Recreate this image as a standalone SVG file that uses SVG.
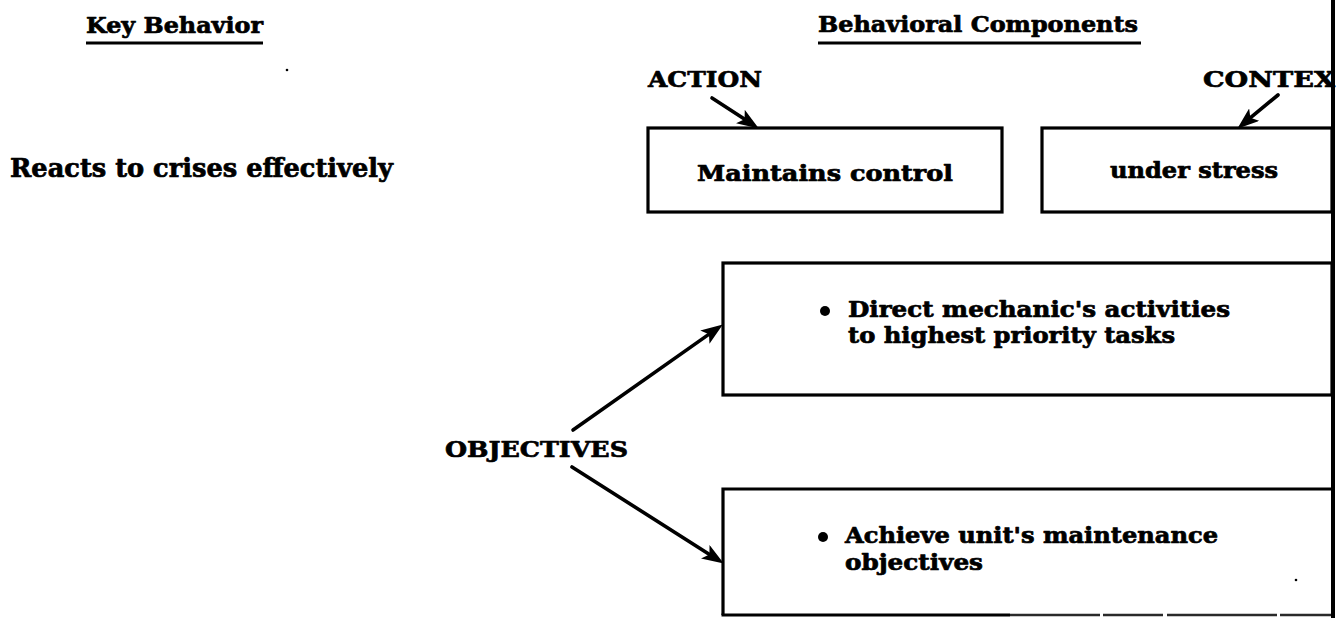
<svg xmlns="http://www.w3.org/2000/svg" width="1342" height="618" viewBox="0 0 1342 618">
  <defs>
    <marker id="head" viewBox="0 0 22 16" refX="13" refY="8" markerWidth="22" markerHeight="16" markerUnits="userSpaceOnUse" orient="auto">
      <path d="M0,0 L22,8 L0,16 L5,8 Z" fill="#000"/>
    </marker>
  </defs>
  <style>
    text { font-family: "DejaVu Serif", "Liberation Serif", serif; font-weight: bold; fill: #000; stroke: #000; stroke-width: 0.7; stroke-linejoin: round; }
    .head { font-size: 23px; }
    .label { font-size: 23px; }
    .body { font-size: 22px; }
    .box { fill: #fff; stroke: #000; stroke-width: 3.2; }
    .rule { stroke: #000; stroke-width: 3; fill: none; }
    .conn { stroke: #000; stroke-width: 3.6; fill: none; stroke-linecap: round; marker-end: url(#head); }
    .bullet { fill: #000; }
  </style>

  <rect width="1342" height="618" fill="#fff"/>

  <!-- column headings -->
  <g id="heading-key">
    <text class="head" x="86" y="33" textLength="177" lengthAdjust="spacingAndGlyphs">Key Behavior</text>
    <line class="rule" x1="86" y1="43" x2="263" y2="43"/>
  </g>
  <g id="heading-components">
    <text class="head" x="818" y="32" textLength="320" lengthAdjust="spacingAndGlyphs">Behavioral Components</text>
    <line class="rule" x1="818" y1="43" x2="1141" y2="43"/>
  </g>

  <!-- key behavior -->
  <g id="key-behavior">
    <text style="font-size:26px" x="10" y="177" textLength="383" lengthAdjust="spacingAndGlyphs">Reacts to crises effectively</text>
  </g>

  <!-- labels -->
  <g id="label-action">
    <text class="label" x="648" y="87" textLength="114" lengthAdjust="spacingAndGlyphs">ACTION</text>
  </g>
  <g id="label-context">
    <text class="label" x="1203" y="87" textLength="132" lengthAdjust="spacingAndGlyphs">CONTEX</text>
  </g>
  <g id="label-objectives">
    <text class="label" x="445" y="457" textLength="183" lengthAdjust="spacingAndGlyphs">OBJECTIVES</text>
  </g>

  <!-- boxes -->
  <g id="box-action">
    <rect class="box" x="648" y="128" width="354" height="84"/>
    <text class="body" x="697" y="181" textLength="256" lengthAdjust="spacingAndGlyphs">Maintains control</text>
  </g>
  <g id="box-context">
    <rect class="box" x="1042" y="128" width="290" height="84"/>
    <text class="body" x="1110" y="178" textLength="168" lengthAdjust="spacingAndGlyphs">under stress</text>
  </g>
  <g id="box-objective-1">
    <rect class="box" x="723" y="263" width="609" height="132"/>
    <circle class="bullet" cx="825" cy="311" r="5"/>
    <text class="body" x="848" y="317" textLength="382" lengthAdjust="spacingAndGlyphs">Direct mechanic's activities</text>
    <text class="body" x="848" y="343" textLength="327" lengthAdjust="spacingAndGlyphs">to highest priority tasks</text>
  </g>
  <g id="box-objective-2">
    <path class="box" d="M723,615 L723,489 L1332,489"/>
    <!-- bottom edge: solid on the left, a worn darker-grey line on the right -->
    <line x1="721.5" y1="615" x2="1010" y2="615" stroke="#000" stroke-width="3"/>
    <line x1="1010" y1="615" x2="1332" y2="615" stroke="#2a2a2a" stroke-width="2.6" stroke-dasharray="90 3 60 4 110 3 60"/>
    <circle class="bullet" cx="823" cy="537" r="5"/>
    <text class="body" x="845" y="543" textLength="373" lengthAdjust="spacingAndGlyphs">Achieve unit's maintenance</text>
    <text class="body" x="845" y="570" textLength="138" lengthAdjust="spacingAndGlyphs">objectives</text>
  </g>

  <!-- right-hand border rule -->
  <line class="rule" x1="1333" y1="0" x2="1333" y2="618" style="stroke-width:4"/>

  <!-- connectors -->
  <g id="connectors">
    <path class="conn" d="M712,98 L751.3,123.6"/>
    <path class="conn" d="M1278,95 L1244.2,122.9"/>
    <path class="conn" d="M573,430 L715.5,329.6"/>
    <path class="conn" d="M572,467 L716.2,558.7"/>
  </g>

  <!-- specks -->
  <circle cx="287" cy="70" r="1.3" fill="#000"/>
  <circle cx="1296" cy="580" r="1.3" fill="#000"/>
</svg>
